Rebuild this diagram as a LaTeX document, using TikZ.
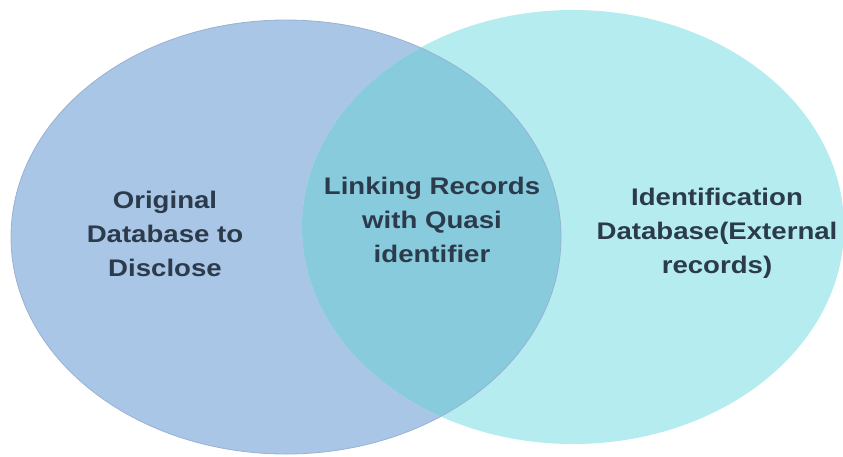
\documentclass[tikz,border=0pt]{standalone}
\usepackage{fontspec}
\setmainfont{Liberation Sans}[FakeStretch=1.15]
\definecolor{setA}{HTML}{A9C6E6}
\definecolor{setB}{HTML}{B5ECEF}
\definecolor{setAB}{HTML}{88CBDD}
\definecolor{edgeA}{HTML}{98B2D2}
\definecolor{edgeB}{HTML}{A6DCE2}
\definecolor{label}{HTML}{2C3B4C}
\tikzset{
  vlabel/.style={text=label, font=\bfseries\fontsize{24}{34}\selectfont, align=center, inner sep=0pt},
}
\begin{document}
\begin{tikzpicture}[x=1pt,y=-1pt]
  \useasboundingbox (0,0) rectangle (843,456);
  % the two sets
  \fill[setA] (286,237) ellipse [x radius=275, y radius=217];
  \fill[setB] (573,227) ellipse [x radius=271, y radius=217];
  % their intersection
  \begin{scope}
    \clip (286,237) ellipse [x radius=275, y radius=217];
    \fill[setAB] (573,227) ellipse [x radius=271, y radius=217];
  \end{scope}
  \draw[edgeA, line width=0.8pt] (286,237) ellipse [x radius=275, y radius=217];
  % labels
  \node[vlabel] (orig) at (165,234) {Original\\Database to\\Disclose};
  \node[vlabel] (link) at (432,220) {Linking Records\\with Quasi\\identifier};
  \node[vlabel] (ident) at (717,233) {Identification\\Database(External\\records)};
\end{tikzpicture}
\end{document}
